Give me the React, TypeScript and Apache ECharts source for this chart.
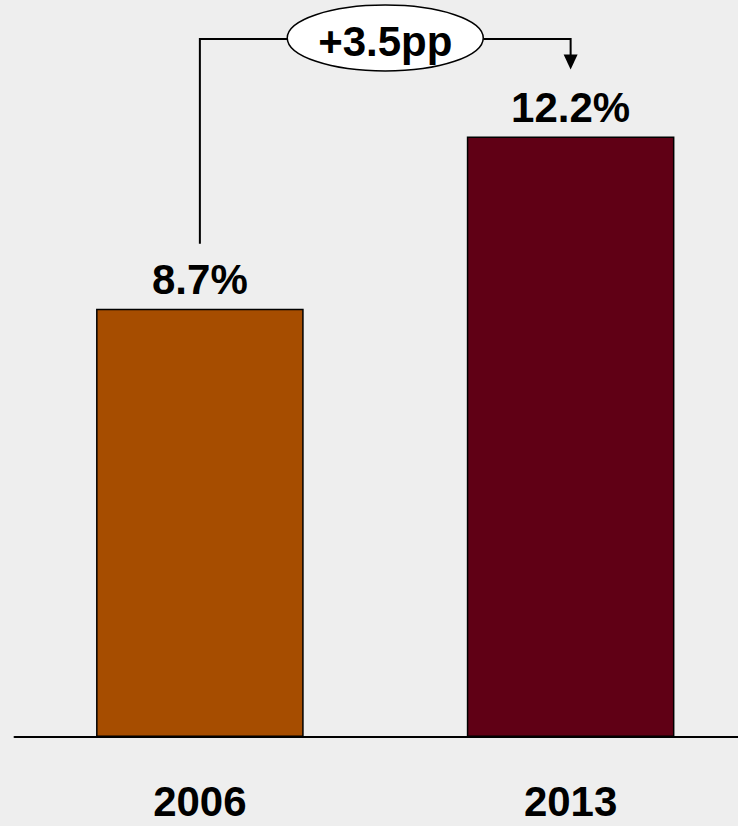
import React, { useEffect, useRef } from "react";
import * as echarts from "echarts";

const categories = ["2006", "2013"];
const values = [8.7, 12.2];
const barColors = ["#A64D00", "#600015"];
const deltaLabel = "+3.5pp";

const FONT = '"Liberation Sans", Arial, Helvetica, sans-serif';

export default function App() {
  const ref = useRef<HTMLDivElement>(null);
  useEffect(() => {
    if (!ref.current) return;
    const chart = echarts.init(ref.current, undefined, { renderer: "svg" });
    chart.setOption({
      animation: false,
      backgroundColor: "#EEEEEE",
      grid: { left: 14.5, right: 0, top: 48, bottom: 89, containLabel: false },
      xAxis: {
        type: "category",
        data: categories,
        axisLine: { show: true, lineStyle: { color: "#000", width: 2 } },
        axisTick: { show: false },
        axisLabel: {
          margin: 43,
          fontSize: 42,
          fontWeight: "bold",
          color: "#000",
          fontFamily: FONT,
        },
      },
      yAxis: {
        type: "value",
        min: 0,
        max: 14,
        show: false,
        splitLine: { show: false },
      },
      series: [
        {
          type: "bar",
          barWidth: "56%",
          data: values.map((v, i) => ({
            value: v,
            itemStyle: { color: barColors[i], borderColor: "#000", borderWidth: 1.5 },
          })),
          label: {
            show: true,
            position: "top",
            distance: 8,
            formatter: "{c}%",
            fontSize: 42,
            fontWeight: "bold",
            color: "#000",
            fontFamily: FONT,
          },
        },
      ],
    });

    const x1 = chart.convertToPixel({ xAxisIndex: 0 }, categories[0]) as number;
    const x2 = chart.convertToPixel({ xAxisIndex: 0 }, categories[1]) as number;
    const t1 = chart.convertToPixel({ yAxisIndex: 0 }, values[0]) as number;
    const t2 = chart.convertToPixel({ yAxisIndex: 0 }, values[1]) as number;
    const ex = (x1 + x2) / 2;
    const hy = 39;
    const rx = 98;
    const ry = 33;
    const tipY = t2 - 67;

    chart.setOption({
      graphic: [
        {
          type: "polyline",
          shape: { points: [[x1, t1 - 65], [x1, hy], [ex - rx, hy]] },
          style: { stroke: "#000", lineWidth: 2, fill: null },
          z: 10,
        },
        {
          type: "polyline",
          shape: { points: [[ex + rx, hy], [x2, hy], [x2, tipY - 14]] },
          style: { stroke: "#000", lineWidth: 2, fill: null },
          z: 10,
        },
        {
          type: "polygon",
          shape: { points: [[x2 - 7, tipY - 15], [x2 + 7, tipY - 15], [x2, tipY]] },
          style: { fill: "#000" },
          z: 10,
        },
        {
          type: "ellipse",
          shape: { cx: ex, cy: 38, rx, ry },
          style: { fill: "#fff", stroke: "#000", lineWidth: 1.5 },
          z: 11,
        },
        {
          type: "text",
          x: ex,
          y: 41,
          style: {
            text: deltaLabel,
            align: "center",
            verticalAlign: "middle",
            font: `bold 42px ${FONT}`,
            fill: "#000",
          },
          z: 12,
        },
      ],
    });

    return () => chart.dispose();
  }, []);

  return (
    <div
      style={{
        position: "fixed",
        left: 0,
        top: 0,
        width: 738,
        height: 826,
        overflow: "hidden",
      }}
    >
      <div ref={ref} style={{ width: 756, height: 826 }} />
    </div>
  );
}
